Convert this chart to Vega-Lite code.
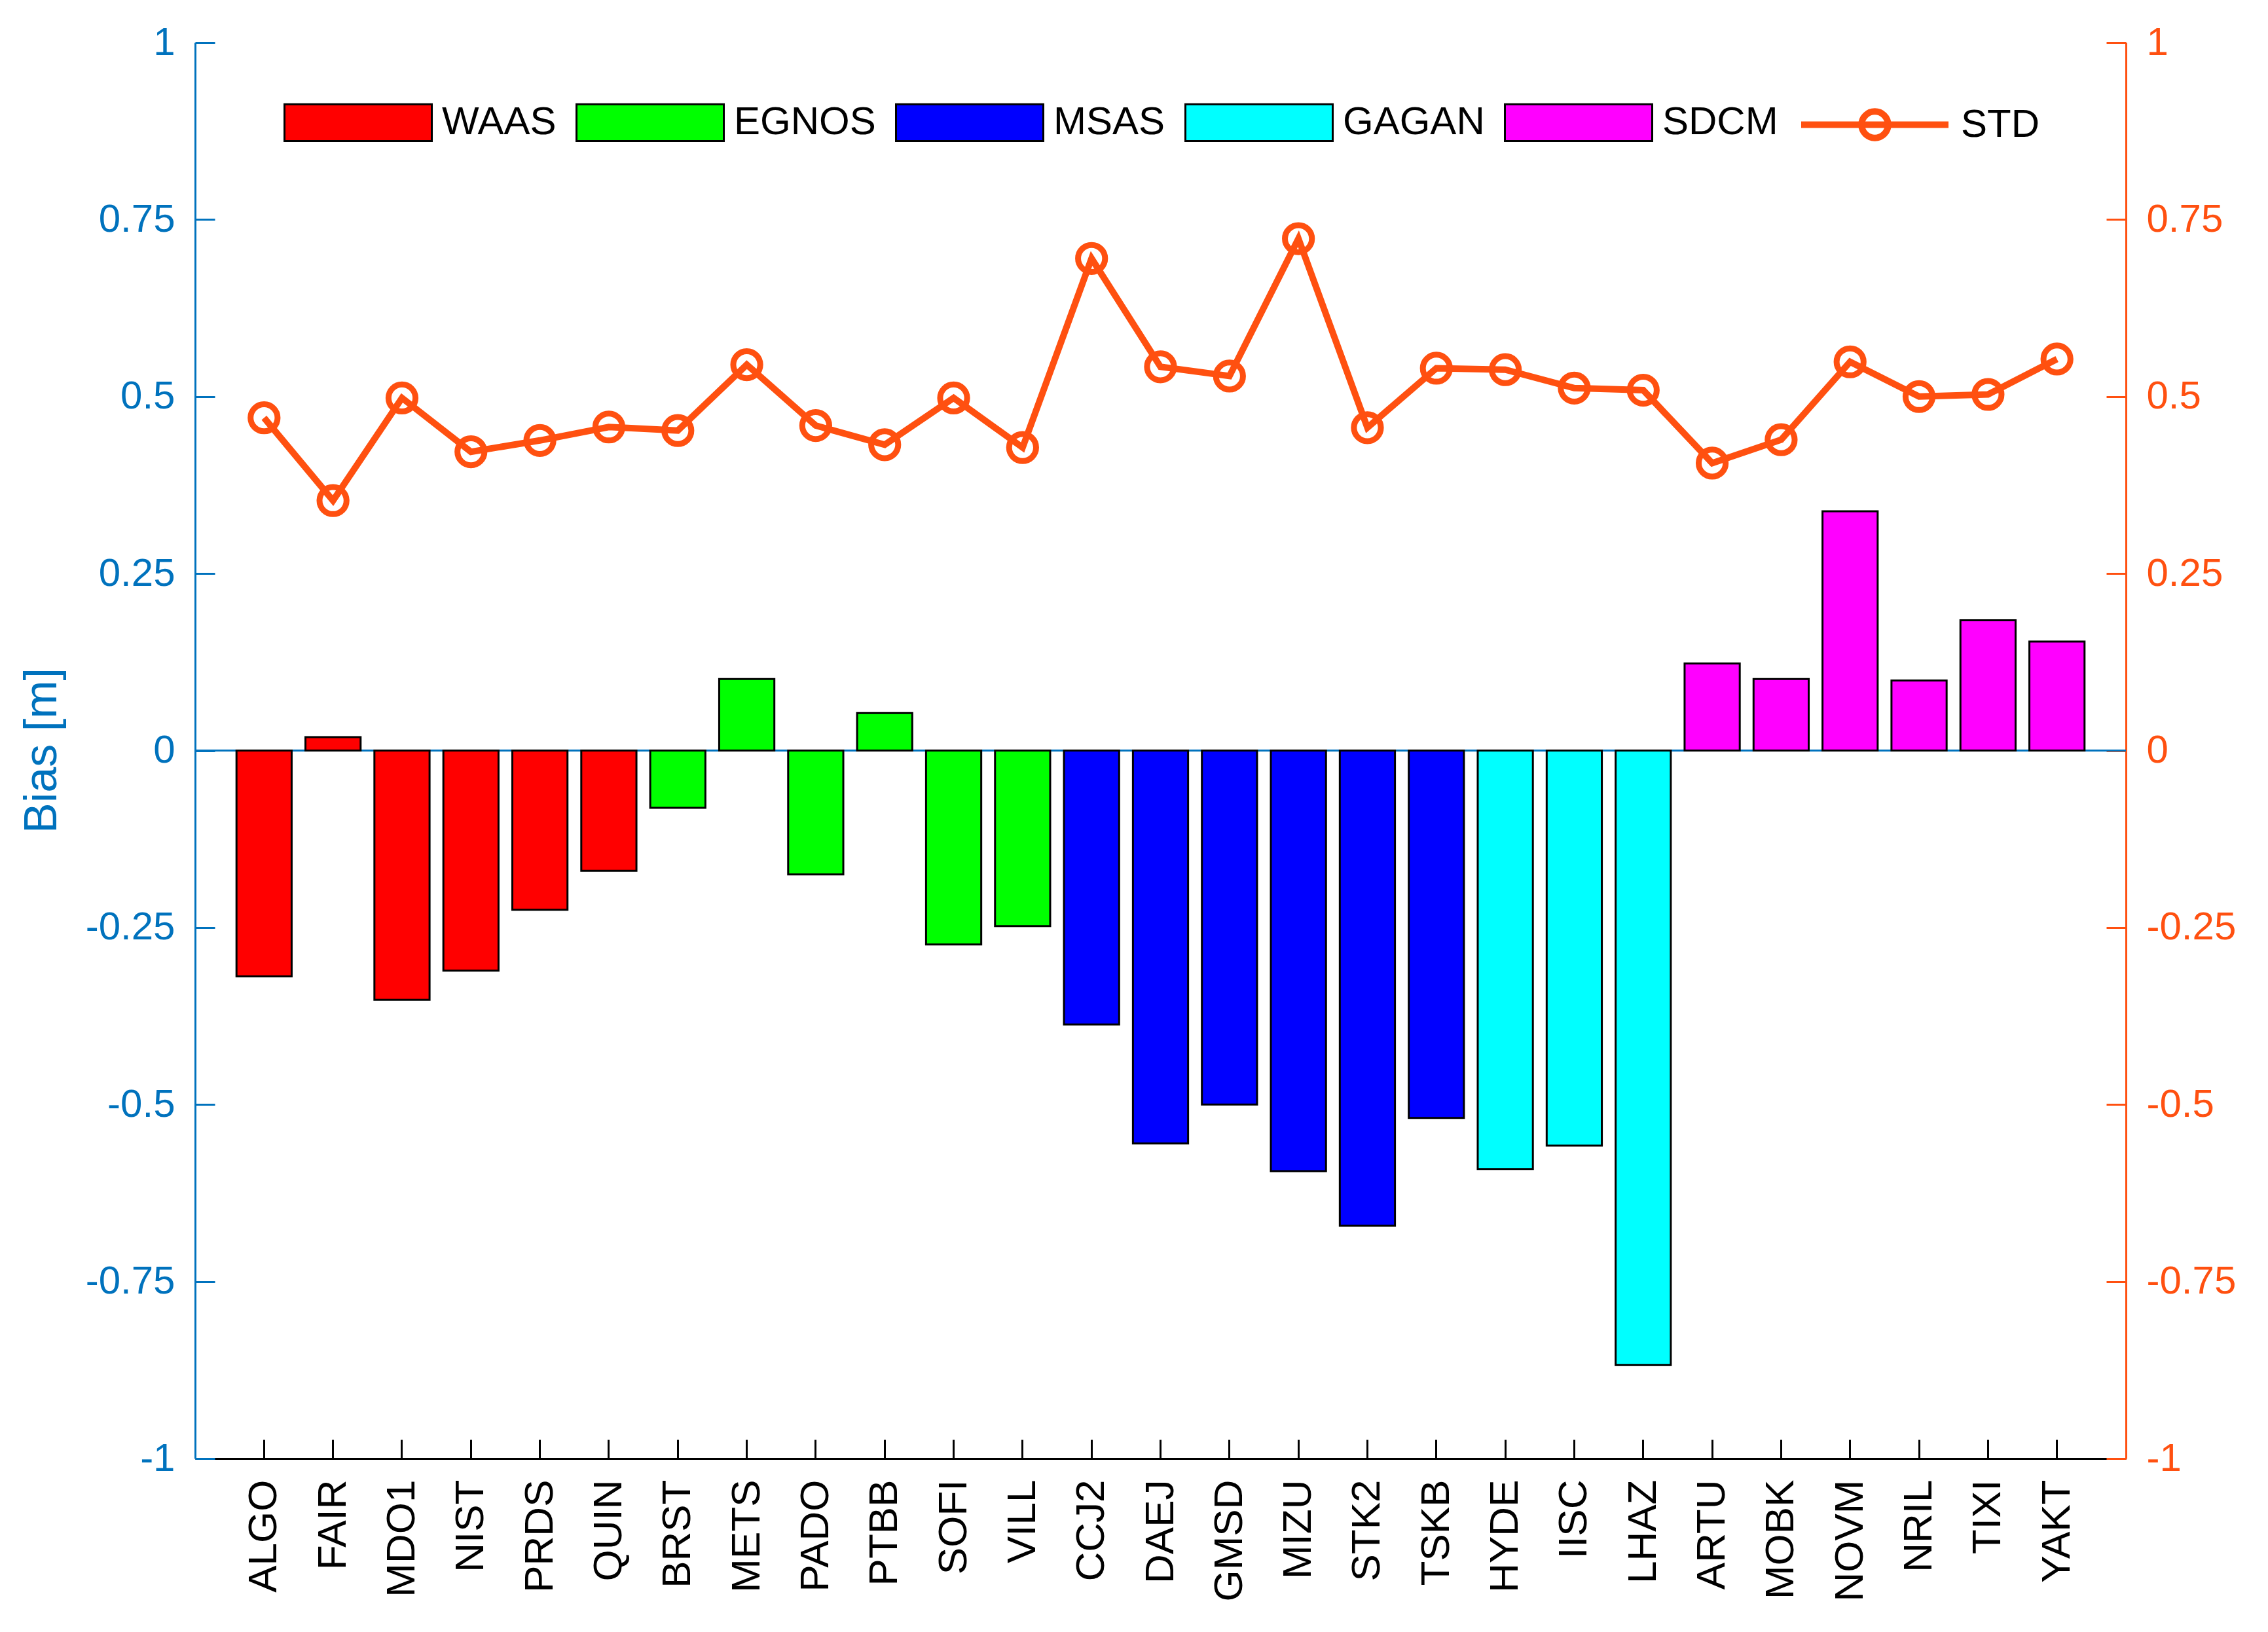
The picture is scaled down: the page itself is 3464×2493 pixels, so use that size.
{
  "$schema": "https://vega.github.io/schema/vega-lite/v6.json",
  "autosize": "none",
  "width": 2949,
  "height": 2163,
  "padding": {"left": 298, "top": 65, "right": 217, "bottom": 265},
  "background": "white",
  "config": {
    "view": {"stroke": null},
    "font": "Liberation Sans",
    "axis": {"grid": false, "labelFont": "Liberation Sans", "titleFont": "Liberation Sans", "domainWidth": 3, "tickWidth": 3, "labelLimit": 0},
    "legend": {"labelFont": "Liberation Sans", "labelLimit": 0}
  },
  "data": {
    "values": [
      {"station": "ALGO", "system": "WAAS", "bias": -0.319, "std": 0.470},
      {"station": "FAIR", "system": "WAAS", "bias": 0.019, "std": 0.353},
      {"station": "MDO1", "system": "WAAS", "bias": -0.352, "std": 0.498},
      {"station": "NIST", "system": "WAAS", "bias": -0.311, "std": 0.422},
      {"station": "PRDS", "system": "WAAS", "bias": -0.225, "std": 0.438},
      {"station": "QUIN", "system": "WAAS", "bias": -0.170, "std": 0.457},
      {"station": "BRST", "system": "EGNOS", "bias": -0.081, "std": 0.452},
      {"station": "METS", "system": "EGNOS", "bias": 0.101, "std": 0.545},
      {"station": "PADO", "system": "EGNOS", "bias": -0.175, "std": 0.459},
      {"station": "PTBB", "system": "EGNOS", "bias": 0.053, "std": 0.432},
      {"station": "SOFI", "system": "EGNOS", "bias": -0.274, "std": 0.498},
      {"station": "VILL", "system": "EGNOS", "bias": -0.248, "std": 0.428},
      {"station": "CCJ2", "system": "MSAS", "bias": -0.387, "std": 0.695},
      {"station": "DAEJ", "system": "MSAS", "bias": -0.555, "std": 0.542},
      {"station": "GMSD", "system": "MSAS", "bias": -0.500, "std": 0.529},
      {"station": "MIZU", "system": "MSAS", "bias": -0.594, "std": 0.723},
      {"station": "STK2", "system": "MSAS", "bias": -0.671, "std": 0.456},
      {"station": "TSKB", "system": "MSAS", "bias": -0.519, "std": 0.540},
      {"station": "HYDE", "system": "GAGAN", "bias": -0.591, "std": 0.538},
      {"station": "IISC", "system": "GAGAN", "bias": -0.558, "std": 0.512},
      {"station": "LHAZ", "system": "GAGAN", "bias": -0.868, "std": 0.509},
      {"station": "ARTU", "system": "SDCM", "bias": 0.123, "std": 0.406},
      {"station": "MOBK", "system": "SDCM", "bias": 0.101, "std": 0.439},
      {"station": "NOVM", "system": "SDCM", "bias": 0.338, "std": 0.549},
      {"station": "NRIL", "system": "SDCM", "bias": 0.099, "std": 0.500},
      {"station": "TIXI", "system": "SDCM", "bias": 0.184, "std": 0.503},
      {"station": "YAKT", "system": "SDCM", "bias": 0.154, "std": 0.553}
    ]
  },
  "encoding": {
    "x": {
      "field": "station",
      "type": "nominal",
      "sort": null,
      "scale": {"paddingInner": 0.2, "paddingOuter": 0.6},
      "axis": {
        "title": null,
        "labelAngle": -90,
        "labelFontSize": 62,
        "labelColor": "black",
        "labelPadding": 61,
        "labelLimit": 0,
        "domainColor": "black",
        "tickColor": "black",
        "tickSize": -29
      }
    }
  },
  "layer": [
    {
      "layer": [
        {
          "mark": {"type": "rule", "color": "#0072BD", "strokeWidth": 3},
          "encoding": {"x": null, "y": {"datum": 0, "type": "quantitative"}}
        },
        {
          "mark": {"type": "bar", "stroke": "black", "strokeWidth": 3},
          "encoding": {
            "y": {
              "field": "bias",
              "type": "quantitative",
              "scale": {"domain": [-1, 1], "nice": false, "zero": false},
              "axis": {
                "title": "Bias [m]",
                "values": [-1, -0.75, -0.5, -0.25, 0, 0.25, 0.5, 0.75, 1],
                "labelExpr": "'' + datum.value",
                "labelFontSize": 60,
                "labelColor": "#0072BD",
                "labelPadding": 61,
                "domainColor": "#0072BD",
                "tickColor": "#0072BD",
                "tickSize": -30,
                "titleColor": "#0072BD",
                "titleFontSize": 70,
                "titleFontWeight": "normal",
                "titleX": -234,
                "titleY": 1081,
                "titleBaseline": "middle",
                "titleAlign": "center"
              }
            },
            "color": {
              "field": "system",
              "type": "nominal",
              "scale": {
                "domain": ["WAAS", "EGNOS", "MSAS", "GAGAN", "SDCM"],
                "range": ["#FF0000", "#00FF00", "#0000FF", "#00FFFF", "#FF00FF"]
              },
              "legend": {
                "title": null,
                "orient": "none",
                "direction": "horizontal",
                "legendX": 135,
                "legendY": 8,
                "padding": 0,
                "symbolType": "M-1,-0.25H1V0.25H-1Z",
                "symbolSize": 50625,
                "symbolStrokeColor": "black",
                "symbolStrokeWidth": 3,
                "symbolOpacity": 1,
                "labelFontSize": 60,
                "labelColor": "black",
                "labelOffset": 14,
                "labelLimit": 0,
                "columnPadding": 24
              }
            }
          }
        }
      ]
    },
    {
      "mark": {
        "type": "line",
        "strokeWidth": 10,
        "point": {"filled": false, "size": 1700, "strokeWidth": 9, "fill": "white", "fillOpacity": 0}
      },
      "encoding": {
        "y": {
          "field": "std",
          "type": "quantitative",
          "scale": {"domain": [-1, 1], "nice": false, "zero": false},
          "axis": {
            "title": null,
            "orient": "right",
            "values": [-1, -0.75, -0.5, -0.25, 0, 0.25, 0.5, 0.75, 1],
            "labelExpr": "'' + datum.value",
            "labelFontSize": 60,
            "labelColor": "#FF5010",
            "labelPadding": 61,
            "domainColor": "#FF5010",
            "tickColor": "#FF5010",
            "tickSize": -30
          }
        },
        "stroke": {
          "datum": "STD",
          "type": "nominal",
          "scale": {"domain": ["STD"], "range": ["#FF5010"]},
          "legend": {
            "title": null,
            "orient": "none",
            "direction": "horizontal",
            "legendX": 2448,
            "legendY": 8,
            "padding": 0,
            "symbolType": "M-1,0H1M-0.18,0A0.18,0.18,0,1,1,0.18,0A0.18,0.18,0,1,1,-0.18,0",
            "symbolSize": 50625,
            "symbolStrokeWidth": 10,
            "symbolFillColor": "transparent",
            "symbolStrokeColor": "#FF5010",
            "labelFontSize": 60,
            "labelColor": "black",
            "labelOffset": 14,
            "labelLimit": 0
          }
        }
      }
    }
  ],
  "resolve": {"scale": {"y": "independent", "stroke": "independent", "color": "independent"}}
}
